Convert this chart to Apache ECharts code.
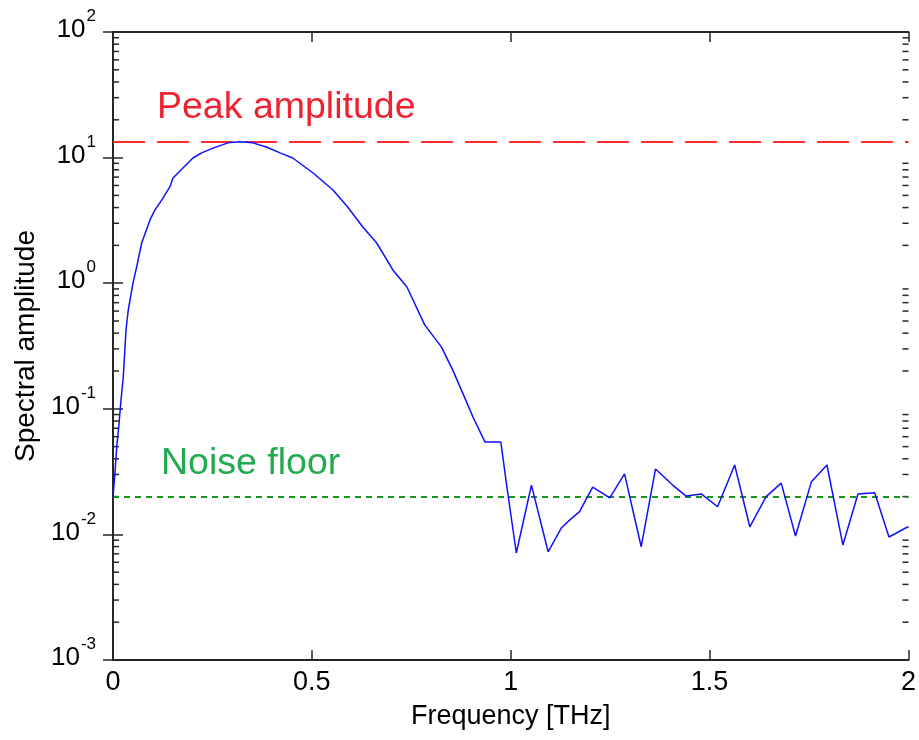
<!DOCTYPE html>
<html>
<head>
<meta charset="utf-8">
<title>Spectral amplitude</title>
<script src="https://cdn.jsdelivr.net/npm/echarts@6/dist/echarts.min.js"></script>
<style>
  html, body { margin: 0; padding: 0; background: #fff; }
  #chart { width: 919px; height: 740px; }
</style>
</head>
<body>
<div id="chart"></div>
<script>
// Spectrum samples: frequency in THz, amplitude in arbitrary units
const freq = [0, 0.005, 0.0093, 0.0151, 0.0201, 0.0259, 0.0327, 0.0384,
  0.0503, 0.0595, 0.0721, 0.093, 0.1055, 0.1224, 0.1432, 0.1508,
  0.1759, 0.201, 0.2229, 0.2513, 0.289, 0.319, 0.352, 0.387,
  0.420, 0.452, 0.503, 0.553, 0.590, 0.628, 0.663, 0.704,
  0.739, 0.784, 0.826, 0.854, 0.879, 0.905, 0.935, 0.975,
  0.989, 1.014, 1.052, 1.094, 1.127, 1.148, 1.173, 1.206,
  1.249, 1.286, 1.328, 1.364, 1.407, 1.441, 1.479, 1.520,
  1.563, 1.601, 1.642, 1.680, 1.716, 1.756, 1.795, 1.835,
  1.873, 1.915, 1.951, 1.994, 2.0];
const amplitude = [0.0199, 0.0308, 0.0497, 0.0757, 0.1175, 0.179, 0.424, 0.612,
  1.00, 1.35, 2.09, 3.19, 3.83, 4.59, 5.87, 6.88,
  8.26, 9.93, 10.9, 11.9, 13.1, 13.4, 13.1, 12.1,
  10.9, 9.93, 7.54, 5.52, 4.04, 2.80, 2.09, 1.27,
  0.933, 0.464, 0.310, 0.204, 0.134, 0.0861, 0.0545, 0.0545,
  0.0256, 0.00711, 0.0247, 0.00727, 0.01124, 0.0130, 0.0152, 0.0238,
  0.0195, 0.0303, 0.00798, 0.0332, 0.0247, 0.0202, 0.0210, 0.0166,
  0.0357, 0.0115, 0.0200, 0.0256, 0.00971, 0.0263, 0.0357, 0.00824,
  0.0210, 0.0215, 0.00953, 0.0113, 0.0115];

// Reference levels
const peakAmplitude = 13.4;
const noiseFloor = 0.02;

// Log axis range (decades) and minor tick mantissas
const yDecades = [-3, -2, -1, 0, 1, 2];
const minorMantissas = [2, 3, 4, 5, 6, 7, 8, 9];

const minorTickData = [];
for (let i = 0; i < yDecades.length - 1; i++) {
  minorMantissas.forEach(m => minorTickData.push([0, m * Math.pow(10, yDecades[i])]));
}

const FONT = "'Liberation Sans', Arial, sans-serif";
const AXIS_COLOR = '#262626';

const chart = echarts.init(document.getElementById('chart'), null, { renderer: 'canvas' });

const yMin = Math.pow(10, yDecades[0]);
const yMax = Math.pow(10, yDecades[yDecades.length - 1]);

const logAxisCommon = {
  type: 'log',
  logBase: 10,
  min: yMin,
  max: yMax,
  splitNumber: 5,
  splitLine: { show: false },
  axisLine: { show: true, lineStyle: { color: AXIS_COLOR, width: 2 } },
  axisTick: { show: true, inside: true, length: 10, lineStyle: { color: AXIS_COLOR, width: 1.5 } }
};

const linAxisCommon = {
  type: 'value',
  min: 0,
  max: 2,
  interval: 0.5,
  splitLine: { show: false },
  axisLine: { show: true, onZero: false, lineStyle: { color: AXIS_COLOR, width: 2 } },
  axisTick: { show: true, inside: true, length: 10, lineStyle: { color: AXIS_COLOR, width: 1.5 } }
};

const option = {
  animation: false,
  backgroundColor: '#fff',
  grid: { left: 113, right: 10, top: 32, bottom: 80, containLabel: false },
  xAxis: [
    Object.assign({}, linAxisCommon, {
      position: 'bottom',
      name: 'Frequency [THz]',
      nameLocation: 'middle',
      nameGap: 43,
      nameTextStyle: { fontFamily: FONT, fontSize: 27, color: '#000' },
      axisLabel: { fontFamily: FONT, fontSize: 27, color: '#000', margin: 9 }
    }),
    Object.assign({}, linAxisCommon, {
      position: 'top',
      axisLabel: { show: false }
    })
  ],
  yAxis: [
    Object.assign({}, logAxisCommon, {
      position: 'left',
      name: 'Spectral amplitude',
      nameLocation: 'middle',
      nameGap: 72,
      nameTextStyle: { fontFamily: FONT, fontSize: 28, color: '#000' },
      axisLabel: {
        margin: 17,
        padding: [0, 0, 13, 0],
        formatter: v => '{b|10}{s|' + Math.round(Math.log10(v)) + '}',
        rich: {
          b: { fontFamily: FONT, fontSize: 26, color: '#000', lineHeight: 35, verticalAlign: 'bottom' },
          s: { fontFamily: FONT, fontSize: 17, color: '#000', lineHeight: 17, verticalAlign: 'top', padding: [0, 0, 0, 1] }
        }
      }
    }),
    Object.assign({}, logAxisCommon, {
      position: 'right',
      axisLabel: { show: false }
    })
  ],
  series: [
    {
      name: 'Spectrum',
      type: 'line',
      xAxisIndex: 0,
      yAxisIndex: 0,
      data: freq.map((f, i) => [f, amplitude[i]]),
      showSymbol: false,
      symbol: 'none',
      lineStyle: { color: '#1010ff', width: 1.5 },
      z: 5,
      markLine: {
        silent: true,
        symbol: 'none',
        animation: false,
        data: [
          {
            yAxis: peakAmplitude,
            lineStyle: { color: '#ff2a2a', width: 2, type: [32, 12] },
            label: {
              show: true,
              position: 'insideStartTop',
              distance: [44, 15],
              formatter: 'Peak amplitude',
              fontFamily: FONT,
              fontSize: 37.5,
              color: '#ee2230'
            }
          },
          {
            yAxis: noiseFloor,
            lineStyle: { color: '#1a961a', width: 2, type: [6, 5] },
            label: {
              show: true,
              position: 'insideStartTop',
              distance: [48, 14],
              formatter: 'Noise floor',
              fontFamily: FONT,
              fontSize: 37.5,
              color: '#22aa50'
            }
          }
        ]
      }
    },
    {
      // Minor log ticks on the left and right frame edges
      name: 'minorTicks',
      type: 'custom',
      xAxisIndex: 0,
      yAxisIndex: 0,
      silent: true,
      clip: false,
      data: minorTickData,
      renderItem: function (params, api) {
        const y = api.coord([0, api.value(1)])[1];
        const cs = params.coordSys;
        const style = { stroke: AXIS_COLOR, lineWidth: 1.5 };
        return {
          type: 'group',
          children: [
            { type: 'line', shape: { x1: cs.x, y1: y, x2: cs.x + 6, y2: y }, style: style },
            { type: 'line', shape: { x1: cs.x + cs.width - 6, y1: y, x2: cs.x + cs.width, y2: y }, style: style }
          ]
        };
      },
      z: 3
    }
  ]
};

chart.setOption(option);
</script>
</body>
</html>
